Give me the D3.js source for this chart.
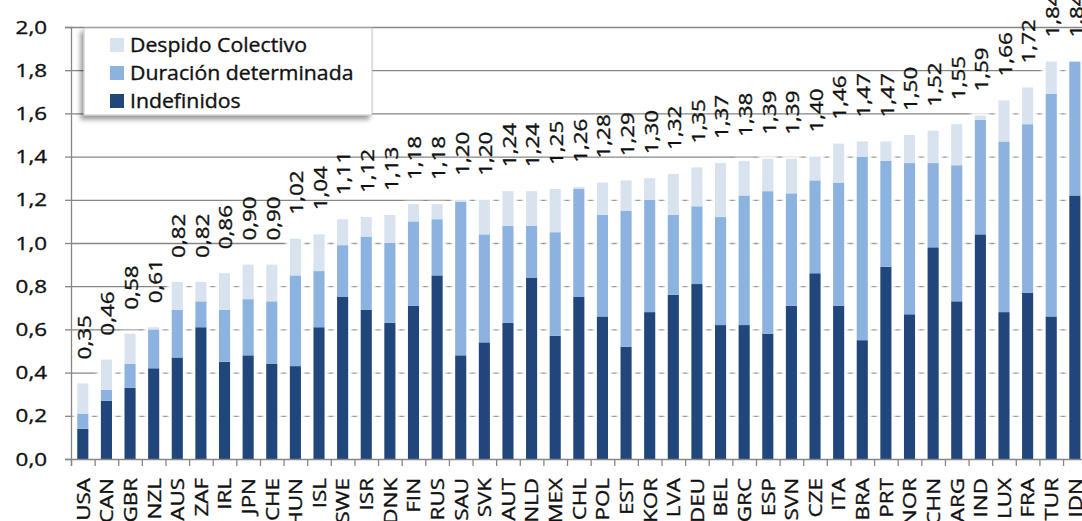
<!DOCTYPE html>
<html>
<head>
<meta charset="utf-8">
<script src="https://cdn.jsdelivr.net/npm/d3@7"></script>
<style>
  html, body { margin: 0; padding: 0; background: #ffffff; overflow: hidden; }
  svg { display: block; font-family: "Open Sans", "Noto Sans", sans-serif; }
  text { stroke: currentColor; stroke-width: 0.35px; }
</style>
</head>
<body>
<svg id="chart" width="1082" height="521"></svg>
<script>
// Countries, ordered by total
const countries = ["USA","CAN","GBR","NZL","AUS","ZAF","IRL","JPN","CHE","HUN","ISL","SWE","ISR","DNK","FIN","RUS","SAU","SVK","AUT","NLD","MEX","CHL","POL","EST","KOR","LVA","DEU","BEL","GRC","ESP","SVN","CZE","ITA","BRA","PRT","NOR","CHN","ARG","IND","LUX","FRA","TUR","IDN"];

// Series values (stacked from the bottom)
const indefinidos = [0.14,0.27,0.33,0.42,0.47,0.61,0.45,0.48,0.44,0.43,0.61,0.75,0.69,0.63,0.71,0.85,0.48,0.54,0.63,0.84,0.57,0.75,0.66,0.52,0.68,0.76,0.81,0.62,0.62,0.58,0.71,0.86,0.71,0.55,0.89,0.67,0.98,0.73,1.04,0.68,0.77,0.66,1.22];
const duracionDeterminada = [0.07,0.05,0.11,0.18,0.22,0.12,0.24,0.26,0.29,0.42,0.26,0.24,0.34,0.37,0.39,0.26,0.71,0.50,0.45,0.24,0.48,0.50,0.47,0.63,0.52,0.37,0.36,0.50,0.60,0.66,0.52,0.43,0.57,0.85,0.49,0.70,0.39,0.63,0.53,0.79,0.78,1.03,0.62];
const despidoColectivo = [0.14,0.14,0.14,0.01,0.13,0.09,0.17,0.16,0.17,0.17,0.17,0.12,0.09,0.13,0.08,0.07,0.01,0.16,0.16,0.16,0.20,0.01,0.15,0.14,0.10,0.19,0.18,0.25,0.16,0.15,0.16,0.11,0.18,0.07,0.09,0.13,0.15,0.19,0.02,0.19,0.17,0.15,0.00];

const seriesNames = ["Despido Colectivo","Duración determinada","Indefinidos"];
const yTicks = [0,0.2,0.4,0.6,0.8,1.0,1.2,1.4,1.6,1.8,2.0];

const colors = {
  "Indefinidos": "#20467b",
  "Duración determinada": "#8cb2e0",
  "Despido Colectivo": "#d9e3f0"
};

const plotLeft = 71, plotBottom = 459, plotTop = 27;
const bandStep = 23.62;
const plotRight = plotLeft + bandStep * countries.length;
const SX = 1.18;               // horizontal widening of the glyphs
const comma = v => v.toFixed(1).replace(".", ",");
const comma2 = v => v.toFixed(2).replace(".", ",");

const svg = d3.select("#chart").style("color", "#111");
const defs = svg.append("defs");
defs.append("filter").attr("id","glow").attr("x","-100%").attr("width","300%").attr("y","-10%").attr("height","120%")
  .append("feGaussianBlur").attr("stdDeviation", 1.8);
defs.append("filter").attr("id","soft").attr("x","-50%").attr("width","200%").attr("y","-50%").attr("height","200%")
  .append("feGaussianBlur").attr("stdDeviation", 0.7);
const sh = defs.append("filter").attr("id","shadow").attr("x","-10%").attr("width","120%").attr("y","-20%").attr("height","150%");
sh.append("feDropShadow").attr("dx",-3).attr("dy",4).attr("stdDeviation",2.5).attr("flood-color","#000").attr("flood-opacity",0.4);

const x = d3.scaleBand().domain(countries).range([plotLeft, plotRight]).padding(0);
const xEdges = d3.scaleLinear().domain([0, countries.length]).range([plotLeft, plotRight]);
const y = d3.scaleLinear().domain([0, 2]).range([plotBottom, plotTop]);

// Stack the three series
const rows = countries.map((c, i) => ({
  country: c,
  "Indefinidos": indefinidos[i],
  "Duración determinada": duracionDeterminada[i],
  "Despido Colectivo": despidoColectivo[i]
}));
const stack = d3.stack().keys(["Indefinidos","Duración determinada","Despido Colectivo"]);
const stacked = stack(rows);
const totals = rows.map(r => Math.round((r["Indefinidos"] + r["Duración determinada"] + r["Despido Colectivo"]) * 100) / 100);

// Horizontal gridlines
svg.append("g")
  .attr("transform", `translate(${plotLeft},0)`)
  .call(d3.axisLeft(y).tickValues(yTicks.filter(v => v > 0)).tickSize(-(plotRight - plotLeft)).tickFormat(""))
  .call(g => g.select(".domain").remove())
  .call(g => g.selectAll("line").attr("stroke", "#868686").attr("stroke-width", 1.3));

const barW = x.bandwidth() * 0.47;
const cx = c => x(c) + x.bandwidth() / 2;

// White halo round each column
svg.append("g").selectAll("rect").data(rows).join("rect")
  .attr("x", d => cx(d.country) - barW / 2 - 4)
  .attr("width", barW + 8)
  .attr("y", (d, i) => y(totals[i]) - 3)
  .attr("height", (d, i) => plotBottom - y(totals[i]) + 3)
  .attr("fill", "#ffffff")
  .attr("filter", "url(#glow)");

// Stacked bars
svg.append("g").selectAll("g").data(stacked).join("g")
  .attr("fill", s => colors[s.key])
  .attr("filter", s => s.key === "Despido Colectivo" ? "url(#soft)" : null)
  .selectAll("rect").data(s => s.map((d, i) => ({ d, c: countries[i] }))).join("rect")
  .attr("x", e => cx(e.c) - barW / 2)
  .attr("width", barW)
  .attr("y", e => y(e.d[1]))
  .attr("height", e => Math.max(0, y(e.d[0]) - y(e.d[1])));

// Total labels above each column
svg.append("g").selectAll("text").data(rows).join("text")
  .attr("transform", (d, i) => `translate(${cx(d.country) + 1},${y(totals[i]) - 24}) rotate(-90) scale(${SX},1)`)
  .attr("dy", "0.36em")
  .attr("text-anchor", "start")
  .attr("font-size", 19)
  .attr("fill", "currentColor")
  .text((d, i) => comma2(totals[i]));

// Y axis
svg.append("g")
  .attr("transform", `translate(${plotLeft},0)`)
  .call(d3.axisLeft(y).tickValues(yTicks).tickSize(6).tickPadding(0).tickFormat(comma))
  .call(g => g.select(".domain").attr("stroke", "#868686").attr("stroke-width", 1.3))
  .call(g => g.selectAll("line").attr("stroke", "#868686").attr("stroke-width", 1.3))
  .call(g => g.selectAll("text")
    .attr("x", -24 / SX)
    .attr("transform", `scale(${SX},1)`)
    .attr("font-size", 19)
    .attr("font-family", "'Open Sans', sans-serif")
    .attr("fill", "currentColor"));

// X axis: line and ticks at category edges
svg.append("g")
  .attr("transform", `translate(0,${plotBottom})`)
  .call(d3.axisBottom(xEdges).tickValues(d3.range(countries.length + 1)).tickSize(7).tickFormat(""))
  .call(g => g.select(".domain").attr("stroke", "#868686").attr("stroke-width", 1.3))
  .call(g => g.selectAll("line").attr("stroke", "#868686").attr("stroke-width", 1.3));

// X axis: country names
svg.append("g")
  .attr("transform", `translate(0,${plotBottom})`)
  .call(d3.axisBottom(x).tickSize(0).tickPadding(0))
  .call(g => g.select(".domain").remove())
  .call(g => g.selectAll("text")
    .attr("transform", `rotate(-90) scale(${SX},1)`)
    .attr("x", -19 / SX)
    .attr("y", 0)
    .attr("dy", "0.36em")
    .attr("text-anchor", "end")
    .attr("font-size", 19)
    .attr("font-family", "'Open Sans', sans-serif")
    .attr("fill", "currentColor"));

// Legend
const lg = svg.append("g");
lg.append("rect")
  .attr("x", 84).attr("y", 28).attr("width", 288).attr("height", 87)
  .attr("fill", "#ffffff").attr("stroke", "#c4c4c4").attr("stroke-width", 1)
  .attr("filter", "url(#shadow)");
const items = lg.selectAll("g.item").data(seriesNames).join("g")
  .attr("class", "item")
  .attr("transform", (d, i) => `translate(110,${45 + i * 28})`);
items.append("rect")
  .attr("x", 0).attr("y", -7).attr("width", 14).attr("height", 14)
  .attr("fill", d => colors[d]);
items.append("text")
  .attr("transform", "translate(20,0) scale(1.09,1)")
  .attr("dy", "0.35em")
  .attr("font-size", 19.5)
  .attr("fill", "currentColor")
  .text(d => d);
</script>
</body>
</html>
